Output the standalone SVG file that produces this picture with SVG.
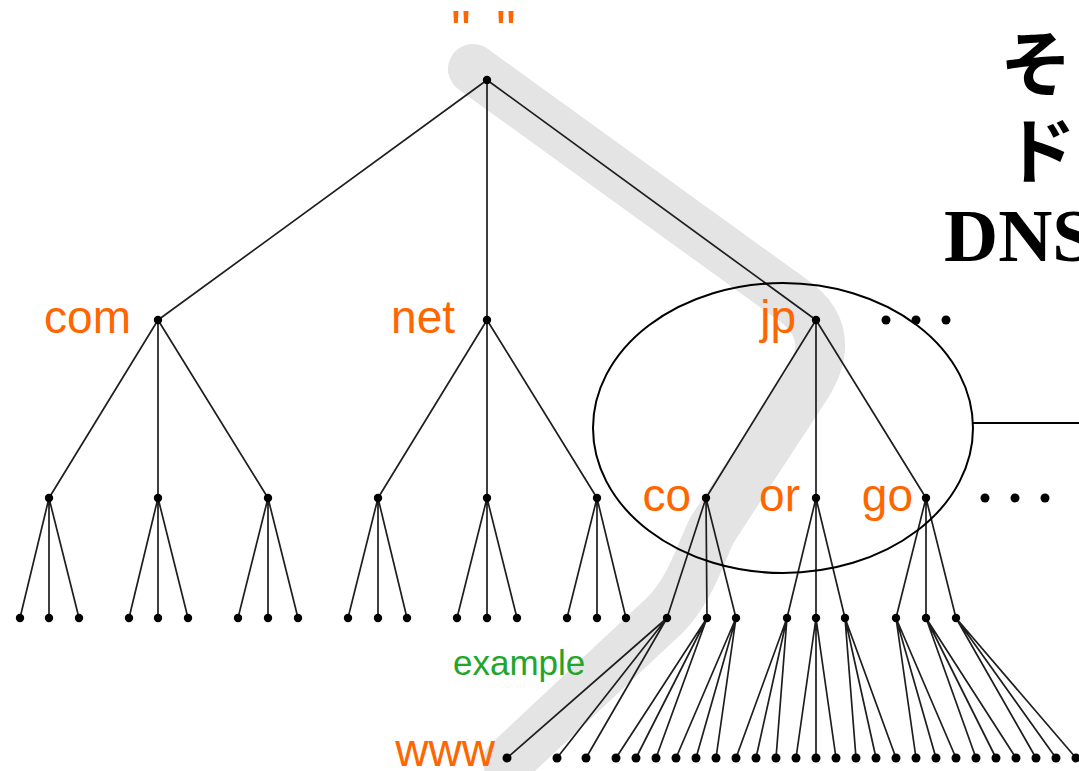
<svg xmlns="http://www.w3.org/2000/svg" width="1079" height="771" viewBox="0 0 1079 771">
<style>
.e{stroke:#1e1e1e;stroke-width:1.7;fill:none}
.d{fill:#000}
.lb{font-family:"Liberation Sans",Arial,sans-serif;font-size:46px;fill:#ff6600}
.q{font-family:"Liberation Sans",Arial,sans-serif;font-size:56px;fill:#ff6600}
.gr{font-family:"Liberation Sans",Arial,sans-serif;font-size:35px;fill:#22a52a}
.jp{font-family:"Noto Sans CJK JP",sans-serif;font-size:72px;font-weight:bold;fill:#000}
.dns{font-family:"Liberation Serif","Times New Roman",serif;font-size:75px;font-weight:bold;fill:#000}
</style>
<rect width="1079" height="771" fill="#fff"/>
<g id="highlight">
<path d="M473,69 L790,298 C835,328 822,365 800,395 L712,530 C700,555 690,590 665,615 L508,762" fill="none" stroke="#e4e4e4" stroke-width="50" stroke-linecap="round" stroke-linejoin="round"/>
</g>
<g id="connectors" class="e">
<path d="M487,80L158,320M487,80L487,320M487,80L816,320"/>
<path d="M158,320L49,498M158,320L158,498M158,320L268,498"/>
<path d="M487,320L378,498M487,320L487,498M487,320L597,498"/>
<path d="M816,320L706,498M816,320L816,498M816,320L926,498"/>
<path d="M49,498L20,618M49,498L49,618M49,498L79,618"/>
<path d="M158,498L129,618M158,498L158,618M158,498L188,618"/>
<path d="M268,498L238,618M268,498L268,618M268,498L298,618"/>
<path d="M378,498L348,618M378,498L378,618M378,498L407,618"/>
<path d="M487,498L457,618M487,498L487,618M487,498L517,618"/>
<path d="M597,498L567,618M597,498L597,618M597,498L626,618"/>
<path d="M706,498L667,618M706,498L707,618M706,498L736,618"/>
<path d="M816,498L787,618M816,498L816,618M816,498L845,618"/>
<path d="M926,498L896,618M926,498L926,618M926,498L956,618"/>
<path d="M667,618L507,758M667,618L557,758M667,618L586,758"/>
<path d="M707,618L616,758M707,618L636,758M707,618L656,758"/>
<path d="M736,618L676,758M736,618L696,758M736,618L716,758"/>
<path d="M787,618L736,758M787,618L756,758M787,618L776,758"/>
<path d="M816,618L796,758M816,618L816,758M816,618L836,758"/>
<path d="M845,618L856,758M845,618L876,758M845,618L896,758"/>
<path d="M896,618L916,758M896,618L936,758M896,618L956,758"/>
<path d="M926,618L976,758M926,618L996,758M926,618L1016,758"/>
<path d="M956,618L1036,758M956,618L1056,758M956,618L1076,758"/>
</g>
<g id="callout">
<ellipse cx="783" cy="428" rx="190" ry="145" fill="none" stroke="#000" stroke-width="2"/>
<line x1="973" y1="423" x2="1079" y2="423" stroke="#000" stroke-width="2"/>
</g>
<g id="n-root"><circle class="d" cx="487" cy="80" r="4.2"/><text class="q"><tspan x="451" y="49">"</tspan><tspan x="496" y="49">"</tspan></text></g>
<g id="n-com"><circle class="d" cx="158" cy="320" r="4.2"/><text class="lb" x="131" y="333" text-anchor="end">com</text></g>
<g id="n-net"><circle class="d" cx="487" cy="320" r="4.2"/><text class="lb" x="455" y="333" text-anchor="end">net</text></g>
<g id="n-jp"><circle class="d" cx="816" cy="320" r="4.2"/><text class="lb" x="796" y="333" text-anchor="end">jp</text></g>
<g id="n-more1"><circle class="d" cx="886" cy="320" r="4.5"/><circle class="d" cx="916" cy="320" r="4.5"/><circle class="d" cx="946" cy="320" r="4.5"/></g>
<g id="n-com-1"><circle class="d" cx="49" cy="498" r="4.2"/></g>
<g id="n-com-2"><circle class="d" cx="158" cy="498" r="4.2"/></g>
<g id="n-com-3"><circle class="d" cx="268" cy="498" r="4.2"/></g>
<g id="n-net-1"><circle class="d" cx="378" cy="498" r="4.2"/></g>
<g id="n-net-2"><circle class="d" cx="487" cy="498" r="4.2"/></g>
<g id="n-net-3"><circle class="d" cx="597" cy="498" r="4.2"/></g>
<g id="n-co"><circle class="d" cx="706" cy="498" r="4.2"/><text class="lb" x="691" y="511" text-anchor="end">co</text></g>
<g id="n-or"><circle class="d" cx="816" cy="498" r="4.2"/><text class="lb" x="800" y="511" text-anchor="end">or</text></g>
<g id="n-go"><circle class="d" cx="926" cy="498" r="4.2"/><text class="lb" x="913" y="511" text-anchor="end">go</text></g>
<g id="n-more2"><circle class="d" cx="985" cy="498" r="4.5"/><circle class="d" cx="1015" cy="498" r="4.5"/><circle class="d" cx="1045" cy="498" r="4.5"/></g>
<g id="level3" class="d">
<g id="n3-1"><circle cx="20" cy="618" r="4.2"/></g>
<g id="n3-2"><circle cx="49" cy="618" r="4.2"/></g>
<g id="n3-3"><circle cx="79" cy="618" r="4.2"/></g>
<g id="n3-4"><circle cx="129" cy="618" r="4.2"/></g>
<g id="n3-5"><circle cx="158" cy="618" r="4.2"/></g>
<g id="n3-6"><circle cx="188" cy="618" r="4.2"/></g>
<g id="n3-7"><circle cx="238" cy="618" r="4.2"/></g>
<g id="n3-8"><circle cx="268" cy="618" r="4.2"/></g>
<g id="n3-9"><circle cx="298" cy="618" r="4.2"/></g>
<g id="n3-10"><circle cx="348" cy="618" r="4.2"/></g>
<g id="n3-11"><circle cx="378" cy="618" r="4.2"/></g>
<g id="n3-12"><circle cx="407" cy="618" r="4.2"/></g>
<g id="n3-13"><circle cx="457" cy="618" r="4.2"/></g>
<g id="n3-14"><circle cx="487" cy="618" r="4.2"/></g>
<g id="n3-15"><circle cx="517" cy="618" r="4.2"/></g>
<g id="n3-16"><circle cx="567" cy="618" r="4.2"/></g>
<g id="n3-17"><circle cx="597" cy="618" r="4.2"/></g>
<g id="n3-18"><circle cx="626" cy="618" r="4.2"/></g>
<g id="n-example"><circle cx="667" cy="618" r="4.2"/><text class="gr" x="453" y="675">example</text></g>
<g id="n3-20"><circle cx="707" cy="618" r="4.2"/></g>
<g id="n3-21"><circle cx="736" cy="618" r="4.2"/></g>
<g id="n3-22"><circle cx="787" cy="618" r="4.2"/></g>
<g id="n3-23"><circle cx="816" cy="618" r="4.2"/></g>
<g id="n3-24"><circle cx="845" cy="618" r="4.2"/></g>
<g id="n3-25"><circle cx="896" cy="618" r="4.2"/></g>
<g id="n3-26"><circle cx="926" cy="618" r="4.2"/></g>
<g id="n3-27"><circle cx="956" cy="618" r="4.2"/></g>
</g>
<g id="level4" class="d">
<g id="n-www"><circle cx="507" cy="758" r="4.5"/><text class="lb" x="495" y="766" text-anchor="end">www</text></g>
<g id="n4-2"><circle cx="557" cy="758" r="4.5"/></g>
<g id="n4-3"><circle cx="586" cy="758" r="4.5"/></g>
<g id="n4-4"><circle cx="616" cy="758" r="4.5"/></g>
<g id="n4-5"><circle cx="636" cy="758" r="4.5"/></g>
<g id="n4-6"><circle cx="656" cy="758" r="4.5"/></g>
<g id="n4-7"><circle cx="676" cy="758" r="4.5"/></g>
<g id="n4-8"><circle cx="696" cy="758" r="4.5"/></g>
<g id="n4-9"><circle cx="716" cy="758" r="4.5"/></g>
<g id="n4-10"><circle cx="736" cy="758" r="4.5"/></g>
<g id="n4-11"><circle cx="756" cy="758" r="4.5"/></g>
<g id="n4-12"><circle cx="776" cy="758" r="4.5"/></g>
<g id="n4-13"><circle cx="796" cy="758" r="4.5"/></g>
<g id="n4-14"><circle cx="816" cy="758" r="4.5"/></g>
<g id="n4-15"><circle cx="836" cy="758" r="4.5"/></g>
<g id="n4-16"><circle cx="856" cy="758" r="4.5"/></g>
<g id="n4-17"><circle cx="876" cy="758" r="4.5"/></g>
<g id="n4-18"><circle cx="896" cy="758" r="4.5"/></g>
<g id="n4-19"><circle cx="916" cy="758" r="4.5"/></g>
<g id="n4-20"><circle cx="936" cy="758" r="4.5"/></g>
<g id="n4-21"><circle cx="956" cy="758" r="4.5"/></g>
<g id="n4-22"><circle cx="976" cy="758" r="4.5"/></g>
<g id="n4-23"><circle cx="996" cy="758" r="4.5"/></g>
<g id="n4-24"><circle cx="1016" cy="758" r="4.5"/></g>
<g id="n4-25"><circle cx="1036" cy="758" r="4.5"/></g>
<g id="n4-26"><circle cx="1056" cy="758" r="4.5"/></g>
<g id="n4-27"><circle cx="1076" cy="758" r="4.5"/></g>
</g>
<g id="title">
<text class="jp" x="1000" y="90">そ</text>
<text class="jp" x="1004" y="177">ド</text>
<text class="dns" x="944" y="261">DNS</text>
</g>
</svg>
